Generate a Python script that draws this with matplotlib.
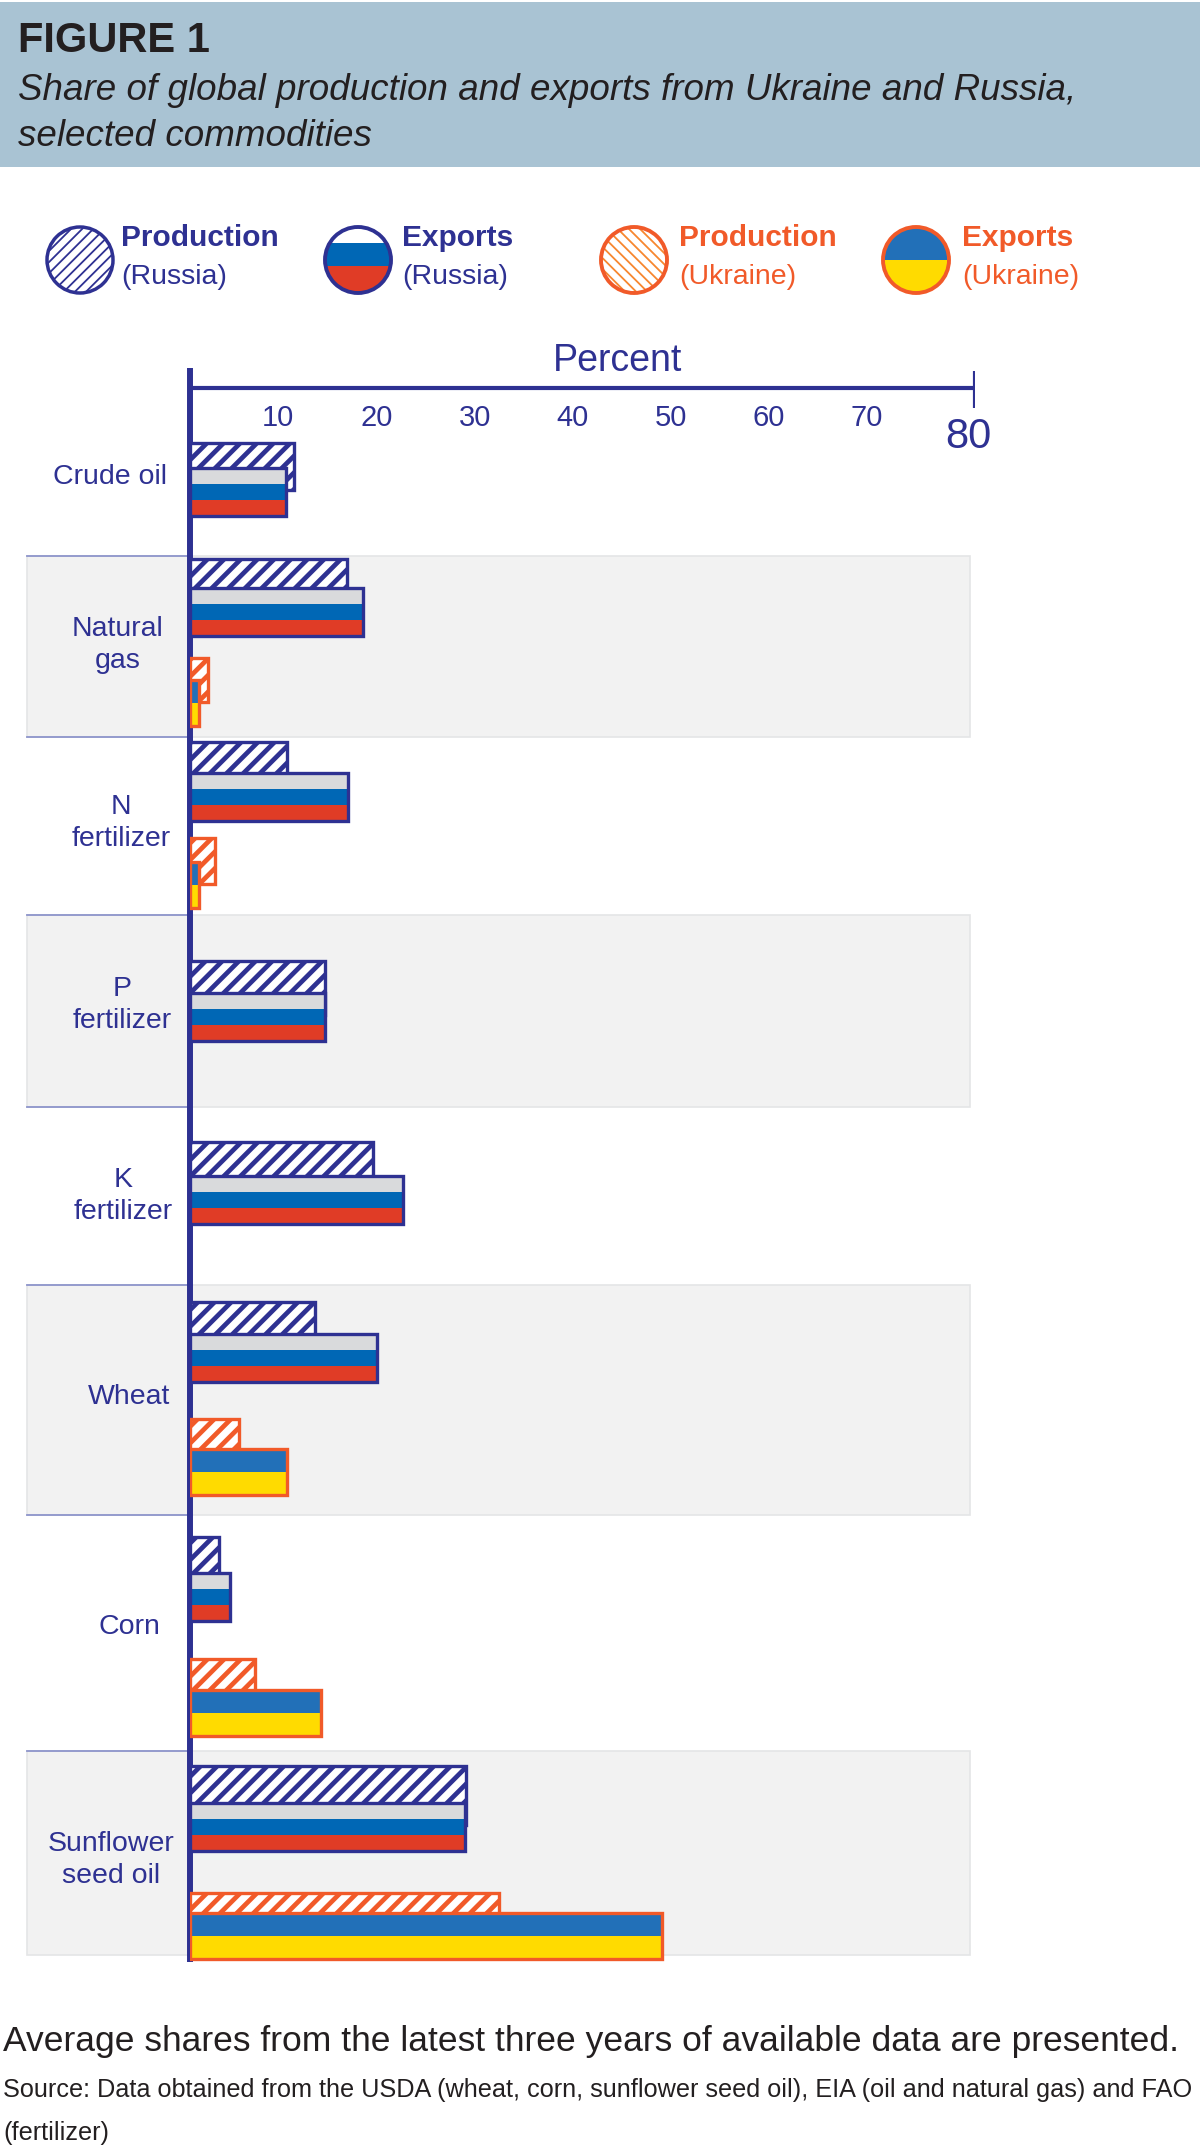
import matplotlib
matplotlib.use("Agg")
import matplotlib.pyplot as plt
from matplotlib.patches import Rectangle, Circle

# ---------------- data ----------------
categories = ["Crude oil", "Natural\ngas", "N\nfertilizer", "P\nfertilizer",
              "K\nfertilizer", "Wheat", "Corn", "Sunflower\nseed oil"]
russia_production = [10.6, 16.0, 9.9, 13.8, 18.6, 12.7, 3.0, 28.1]
russia_exports = [9.8, 17.6, 16.1, 13.8, 21.7, 19.1, 4.1, 28.0]
ukraine_production = [None, 1.8, 2.5, None, None, 5.0, 6.6, 31.5]
ukraine_exports = [None, 0.9, 0.9, None, None, 9.9, 13.3, 48.1]
tick_values = [10, 20, 30, 40, 50, 60, 70, 80]
axis_max = 80

title = "FIGURE 1"
subtitle = ["Share of global production and exports from Ukraine and Russia,",
            "selected commodities"]
legend_labels = [("Production", "(Russia)"), ("Exports", "(Russia)"),
                 ("Production", "(Ukraine)"), ("Exports", "(Ukraine)")]
footnote = "Average shares from the latest three years of available data are presented."
source = ["Source: Data obtained from the USDA (wheat, corn, sunflower seed oil), EIA (oil and natural gas) and FAO",
          "(fertilizer)"]

# ---------------- layout (pixel units) ----------------
W, H = 1200, 2147
row_tops = [427, 556, 737, 915, 1107, 1285, 1515, 1751]
row_bottom = 1955
gray_rows = [False, True, False, True, False, True, False, True]
label_pos = [(110, 477), (118, 645), (121, 823), (122, 1005), (123, 1196),
             (129, 1397), (129, 1627), (111, 1860)]
ru_prod_top = [443, 559, 742, 961, 1142, 1302, 1537, 1766]
ru_exp_top = [468, 588, 773, 993, 1176, 1334, 1573, 1803]
ua_prod_top = [None, 658, 838, None, None, 1419, 1659, 1893]
ua_exp_top = [None, 680, 862, None, None, 1449, 1690, 1913]
RU_EXP_H = 48
UA_EXP_H = 46

NAVY = "#2e3192"
ORANGE = "#f15a29"
RU_WHITE = "#d9dadc"
RU_BLUE = "#0067b5"
RU_RED = "#e03c26"
UA_BLUE = "#2270b8"
UA_YELLOW = "#ffdb00"
HEADER = "#a9c3d3"
GRAYBG = "#f2f2f2"
TEXT = "#231f20"

REG = ["Liberation Sans", "DejaVu Sans"]

fig = plt.figure(figsize=(W / 100, H / 100), dpi=100)
fig.patch.set_facecolor("white")

bg = fig.add_axes([0, 0, 1, 1])
bg.set_xlim(0, W)
bg.set_ylim(H, 0)
bg.axis("off")

x0_px, x1_px = 190, 975
ax = fig.add_axes([x0_px / W, 0, (x1_px - x0_px) / W, 1])
ax.set_xlim(0, axis_max)
ax.set_ylim(H, 0)
ax.axis("off")
ax.patch.set_alpha(0)

# ---------------- header ----------------
bg.add_patch(Rectangle((0, 2), W, 165, facecolor=HEADER, edgecolor="none", zorder=0))
bg.text(18, 41, title, fontsize=30, fontweight="bold", family=REG, color=TEXT,
        va="center", ha="left")
for i, line in enumerate(subtitle):
    bg.text(18, 90 + i * 46, line, fontsize=26.5, style="italic", family=REG,
            color=TEXT, va="center", ha="left")

# ---------------- legend ----------------
leg_cx = [80, 358, 634, 916]
leg_tx = [121, 402, 679, 962]
leg_cy, leg_r = 260, 33
for k, (l1, l2) in enumerate(legend_labels):
    col = NAVY if k < 2 else ORANGE
    bg.text(leg_tx[k], 238, l1, fontsize=21.5, fontweight="bold", family=REG,
            color=col, va="center", ha="left")
    bg.text(leg_tx[k], 277, l2, fontsize=20.5, family=REG, color=col,
            va="center", ha="left")

# circle 1: Russia production (hatched)
with plt.rc_context({"hatch.linewidth": 1.3}):
    c1 = Circle((leg_cx[0], leg_cy), leg_r, facecolor="white", edgecolor=NAVY,
                hatch="///", linewidth=2.5, zorder=3)
bg.add_patch(c1)
# circle 2: Russia exports (flag)
c2 = Circle((leg_cx[1], leg_cy), leg_r, facecolor="none", edgecolor=NAVY,
            linewidth=2.8, zorder=4)
bg.add_patch(c2)
for (ya, yb, colr) in [(leg_cy - leg_r, 243, "white"), (243, 266, RU_BLUE),
                       (266, leg_cy + leg_r, RU_RED)]:
    r = Rectangle((leg_cx[1] - leg_r, ya), 2 * leg_r, yb - ya, facecolor=colr,
                  edgecolor="none", zorder=3)
    bg.add_patch(r)
    r.set_clip_path(c2)
# circle 3: Ukraine production (hatched)
with plt.rc_context({"hatch.linewidth": 1.3}):
    c3 = Circle((leg_cx[2], leg_cy), leg_r, facecolor="white", edgecolor="#f7872f",
                hatch="\\\\\\", linewidth=0, zorder=3)
bg.add_patch(c3)
bg.add_patch(Circle((leg_cx[2], leg_cy), leg_r, facecolor="none", edgecolor=ORANGE,
                    linewidth=2.8, zorder=4))
# circle 4: Ukraine exports (flag)
c4 = Circle((leg_cx[3], leg_cy), leg_r, facecolor="none", edgecolor=ORANGE,
            linewidth=2.8, zorder=4)
bg.add_patch(c4)
for (ya, yb, colr) in [(leg_cy - leg_r, leg_cy, UA_BLUE), (leg_cy, leg_cy + leg_r, UA_YELLOW)]:
    r = Rectangle((leg_cx[3] - leg_r, ya), 2 * leg_r, yb - ya, facecolor=colr,
                  edgecolor="none", zorder=3)
    bg.add_patch(r)
    r.set_clip_path(c4)

# ---------------- row backgrounds, separators, labels ----------------
bounds = row_tops[1:] + [row_bottom]
for i, top in enumerate(row_tops):
    bot = bounds[i]
    if gray_rows[i]:
        bg.add_patch(Rectangle((27, top), 943, bot - top, facecolor=GRAYBG,
                               edgecolor="#e4e5e6", linewidth=1.2, zorder=0.5))
    if i > 0:
        bg.plot([27, 190], [top, top], color="#8e95cb", lw=1.3, zorder=1)
    bg.text(label_pos[i][0], label_pos[i][1], categories[i], fontsize=20.5,
            family=REG, color=NAVY, ha="center", va="center",
            multialignment="center", linespacing=1.3, zorder=2)

# ---------------- axes lines & ticks ----------------
bg.plot([190, 190], [368, 1962], color=NAVY, lw=4.3, solid_capstyle="butt", zorder=8)
ax.plot([0, axis_max], [388, 388], color=NAVY, lw=3, solid_capstyle="butt", zorder=8)
ax.plot([axis_max, axis_max], [371, 408], color=NAVY, lw=3, solid_capstyle="butt", zorder=8)
ax.text(43.6, 361, "Percent", fontsize=27, family=REG, color=NAVY, ha="center", va="center")
for v in tick_values:
    if v < axis_max:
        ax.text(v - 1.0, 418, str(v), fontsize=21, family=REG, color=NAVY,
                ha="center", va="center")
    else:
        ax.text(v - 0.7, 437, str(v), fontsize=30, family=REG, color=NAVY,
                ha="center", va="center")

# ---------------- bars ----------------
def prod_bar(val, top, exp_top, edge):
    h = (exp_top - top) + 22
    with plt.rc_context({"hatch.linewidth": 3.4}):
        ax.barh(top + h / 2, val, height=h, left=0, color="white", edgecolor=edge,
                hatch="//", linewidth=2.4, zorder=4)


def exp_bar(val, top, h, colors, edge):
    n = len(colors)
    for j, colr in enumerate(colors):
        ax.barh(top + h * (j + 0.5) / n, val, height=h / n, left=0, color=colr,
                edgecolor="none", linewidth=0, zorder=5)
    ax.barh(top + h / 2, val, height=h, left=0, fill=False, edgecolor=edge,
            linewidth=2.4, zorder=6)


for i in range(len(categories)):
    prod_bar(russia_production[i], ru_prod_top[i], ru_exp_top[i], NAVY)
    exp_bar(russia_exports[i], ru_exp_top[i], RU_EXP_H, [RU_WHITE, RU_BLUE, RU_RED], NAVY)
    if ukraine_production[i] is not None:
        prod_bar(ukraine_production[i], ua_prod_top[i], ua_exp_top[i], ORANGE)
    if ukraine_exports[i] is not None:
        exp_bar(ukraine_exports[i], ua_exp_top[i], UA_EXP_H, [UA_BLUE, UA_YELLOW], ORANGE)

# ---------------- footer ----------------
bg.text(3, 2041, footnote, fontsize=25.5, family=REG, color=TEXT, ha="left", va="center")
bg.text(3, 2090, source[0], fontsize=18.2, family=REG, color=TEXT, ha="left", va="center")
bg.text(3, 2133, source[1], fontsize=18.2, family=REG, color=TEXT, ha="left", va="center")

fig.savefig("out.png", dpi=100, facecolor="white")
